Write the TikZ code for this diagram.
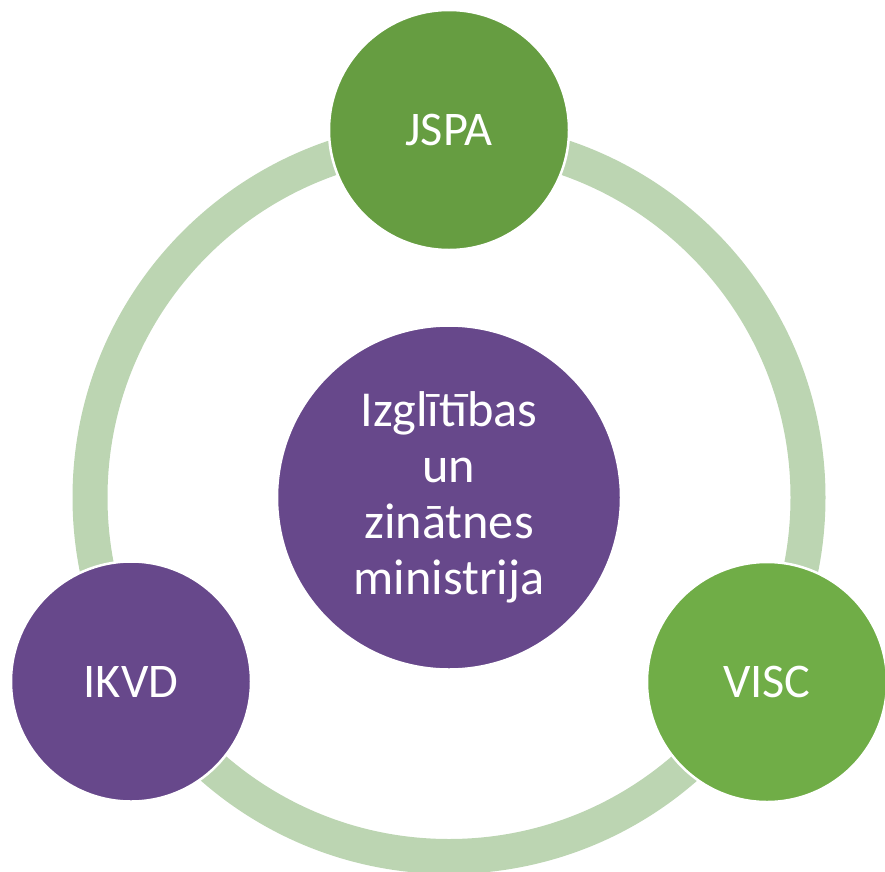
\documentclass[tikz,border=0pt]{standalone}
\usepackage{fontspec}
\setmainfont{Carlito}
\definecolor{ringgreen}{RGB}{188,213,178}
\definecolor{darkgreen}{RGB}{102,157,65}
\definecolor{litegreen}{RGB}{112,173,71}
\definecolor{purp}{RGB}{103,72,139}
\begin{document}
\begin{tikzpicture}[x=1bp,y=-1bp,
  bubble/.style={circle,draw=white,line width=2.5bp,inner sep=0pt,text=white,
    font=\fontsize{48.5}{56}\selectfont,align=center},
  ringstyle/.style={draw=ringgreen,line width=35bp}]
\useasboundingbox (0,0) rectangle (885,872);
\coordinate (c) at (449,497.5);
\draw[ringstyle] (c) circle[radius=359];
\node[bubble,fill=purp,minimum size=344bp,font=\fontsize{50.5}{56}\selectfont] (izm) at (c) {Izglītības\\un\\zinātnes\\ministrija};
\node[bubble,fill=darkgreen,minimum size=240bp] (jspa) at (449,130) {JSPA};
\node[bubble,fill=litegreen,minimum size=240bp] (visc) at (767,682) {VISC};
\node[bubble,fill=purp,minimum size=240bp] (ikvd) at (131,681.5) {IKVD};
\end{tikzpicture}
\end{document}
